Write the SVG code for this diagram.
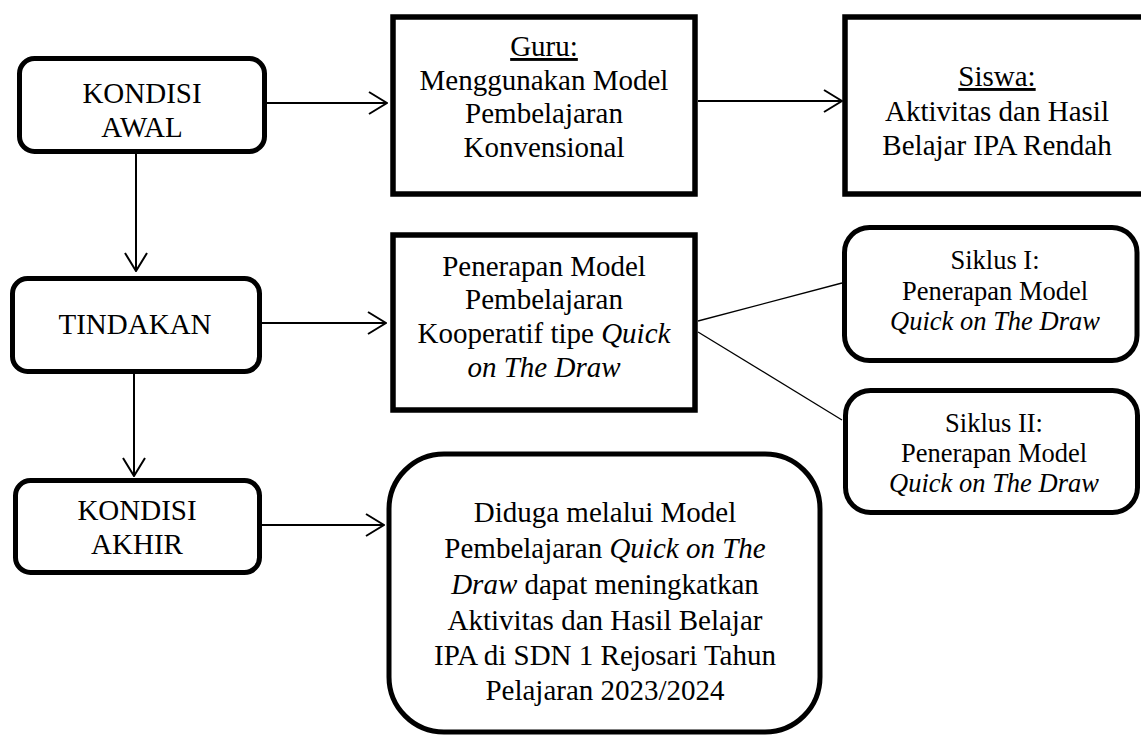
<svg xmlns="http://www.w3.org/2000/svg" width="1141" height="735" viewBox="0 0 1141 735">
<style>
  .box{fill:#fff;stroke:#000;stroke-width:5.5}
  .rbox{fill:#fff;stroke:#000;stroke-width:5}
  .t{font-family:"Liberation Serif","Times New Roman",serif;font-size:29px;fill:#000;text-anchor:middle}
  .s{font-family:"Liberation Serif","Times New Roman",serif;font-size:26.5px;fill:#000;text-anchor:middle}
  .i{font-style:italic}
  .u{text-decoration:underline}
  .c{fill:none;stroke:#000;stroke-width:2}
  .thin{fill:none;stroke:#000;stroke-width:1.3}
</style>
<defs>
  <marker id="arr" viewBox="0 0 20 24" refX="19" refY="12" markerWidth="20" markerHeight="24" markerUnits="userSpaceOnUse" orient="auto">
    <path d="M1,1 L19,12 L1,23" fill="none" stroke="#000" stroke-width="2"/>
  </marker>
</defs>
<rect width="1141" height="735" fill="#fff"/>
<g id="connectors">
  <line class="c" x1="267" y1="103" x2="387" y2="103" marker-end="url(#arr)"/>
  <line class="c" x1="698" y1="101" x2="842" y2="101" marker-end="url(#arr)"/>
  <line class="c" x1="136" y1="154" x2="136" y2="271" marker-end="url(#arr)"/>
  <line class="c" x1="262" y1="323" x2="386" y2="323" marker-end="url(#arr)"/>
  <line class="c" x1="134" y1="374" x2="134" y2="476" marker-end="url(#arr)"/>
  <line class="c" x1="262" y1="525" x2="384" y2="525" marker-end="url(#arr)"/>
  <line class="thin" x1="698" y1="321" x2="842" y2="283"/>
  <line class="thin" x1="698" y1="332" x2="842" y2="420"/>
</g>
<g id="kondisi-awal">
  <rect class="rbox" x="19.5" y="58.5" width="245" height="93" rx="15"/>
  <text class="t" x="142" y="103">KONDISI</text>
  <text class="t" x="142" y="137">AWAL</text>
</g>
<g id="guru">
  <rect class="box" x="393" y="17" width="302" height="177"/>
  <text class="t" x="544" y="56"><tspan class="u">Guru:</tspan></text>
  <text class="t" x="544" y="89.5">Menggunakan Model</text>
  <text class="t" x="544" y="122.5">Pembelajaran</text>
  <text class="t" x="544" y="156.5">Konvensional</text>
</g>
<g id="siswa">
  <rect class="box" x="845" y="17" width="300" height="177"/>
  <text class="t" x="997" y="86"><tspan class="u">Siswa:</tspan></text>
  <text class="t" x="997" y="121">Aktivitas dan Hasil</text>
  <text class="t" x="997" y="155">Belajar IPA Rendah</text>
</g>
<g id="tindakan">
  <rect class="rbox" x="12.5" y="278.5" width="247" height="93" rx="15"/>
  <text class="t" x="135" y="334">TINDAKAN</text>
</g>
<g id="penerapan">
  <rect class="box" x="393" y="235" width="302" height="175"/>
  <text class="t" x="544" y="276">Penerapan Model</text>
  <text class="t" x="544" y="309">Pembelajaran</text>
  <text class="t" x="544" y="343">Kooperatif tipe <tspan class="i">Quick</tspan></text>
  <text class="t i" x="544" y="377">on The Draw</text>
</g>
<g id="siklus-1">
  <rect class="rbox" x="844.5" y="227.5" width="292.5" height="133" rx="25"/>
  <text class="s" x="995" y="269">Siklus I:</text>
  <text class="s" x="995" y="300">Penerapan Model</text>
  <text class="s i" x="995" y="330">Quick on The Draw</text>
</g>
<g id="siklus-2">
  <rect class="rbox" x="845.5" y="390.5" width="292" height="122" rx="25"/>
  <text class="s" x="994" y="432">Siklus II:</text>
  <text class="s" x="994" y="462">Penerapan Model</text>
  <text class="s i" x="994" y="492">Quick on The Draw</text>
</g>
<g id="kondisi-akhir">
  <rect class="rbox" x="15.5" y="480.5" width="244" height="92" rx="15"/>
  <text class="t" x="137" y="520">KONDISI</text>
  <text class="t" x="137" y="554">AKHIR</text>
</g>
<g id="diduga">
  <rect class="rbox" x="389" y="454" width="431" height="278" rx="55"/>
  <text class="t" x="605" y="522">Diduga melalui Model</text>
  <text class="t" x="605" y="558">Pembelajaran <tspan class="i">Quick on The</tspan></text>
  <text class="t" x="605" y="594"><tspan class="i">Draw</tspan> dapat meningkatkan</text>
  <text class="t" x="605" y="630">Aktivitas dan Hasil Belajar</text>
  <text class="t" x="605" y="665">IPA di SDN 1 Rejosari Tahun</text>
  <text class="t" x="605" y="700">Pelajaran 2023/2024</text>
</g>
</svg>
